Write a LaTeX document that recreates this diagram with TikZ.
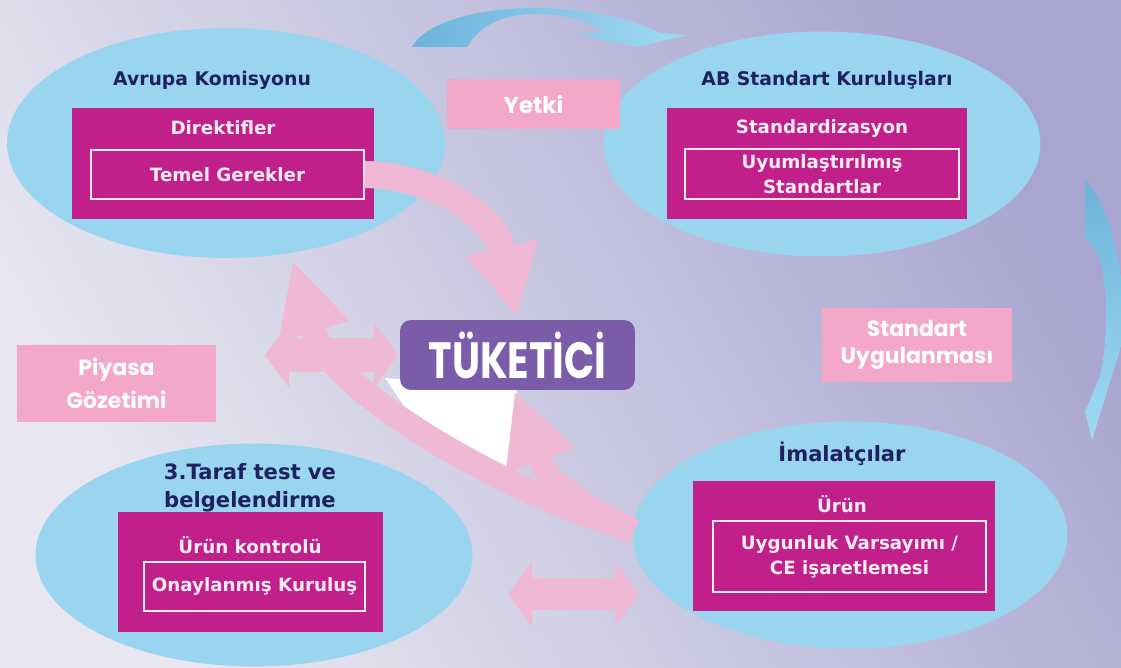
\documentclass[tikz,border=0pt]{standalone}
\usepackage{fontspec}
\setmainfont{DejaVu Sans}
\newfontfamily\lblfont{Poppins}
\usepackage{tikz}
\usetikzlibrary{arrows.meta}
\usetikzlibrary{shapes.geometric}

\definecolor{bgleft}{RGB}{232,231,241}
\definecolor{bgright}{RGB}{168,166,208}
\definecolor{ellblue}{RGB}{154,213,239}
\definecolor{boxmag}{RGB}{193,32,138}
\definecolor{titleblue}{RGB}{30,32,96}
\definecolor{lblpink}{RGB}{243,168,202}
\definecolor{arrpink}{RGB}{239,185,214}
\definecolor{tukpurple}{RGB}{122,92,168}
\definecolor{bluedark}{RGB}{108,179,218}
\definecolor{bluelight}{RGB}{160,218,242}
\definecolor{boxtext}{RGB}{250,235,244}

\newcommand\ttlfont{\bfseries\fontsize{10.7}{13}\selectfont}
\newcommand\ttlfontb{\bfseries\fontsize{12}{16}\selectfont}
\newcommand\bxfont{\bfseries\fontsize{10.4}{14.2}\selectfont}

\tikzset{
	pinktip/.style={-{Triangle[length=#1, width=1.48cm, line width=0pt]}},
	pinktwo/.style={{Triangle[length=0.48cm, width=1.3cm, line width=0pt]}-{Triangle[length=0.48cm, width=1.3cm, line width=0pt]}}
}

\begin{document}
\begin{tikzpicture}[x=0.02cm, y=-0.02cm]
	\useasboundingbox (0,0) rectangle (1121,668);
	\shade[top color=bgright, bottom color=bgleft, shading angle=-60] (0,0) rectangle (1121,668);

	\shade[left color=bluedark, right color=bluelight] (412,47) .. controls (425,22) and (480,8) .. (535,8)
		.. controls (590,8) and (640,22) .. (660,33) -- (687,35) -- (637,47) -- (575,34) -- (602,32)
		.. controls (590,20) and (560,14) .. (535,14) .. controls (500,14) and (478,28) .. (467,47) -- cycle;
	\shade[top color=bluedark, bottom color=bluelight] (1085,180) .. controls (1105,200) and (1121,250) .. (1123,300)
		-- (1123,340) -- (1092,440) -- (1085,412) -- (1100,376) .. controls (1108,340) and (1108,290) .. (1100,260)
		.. controls (1095,248) and (1090,242) .. (1085,238) -- cycle;

	\begin{scope}[every node/.style={ellipse, fill=ellblue, inner sep=0pt}]
		\node[minimum width=8.76cm, minimum height=4.6cm] (ak) at (226,143) {};
		\node[minimum width=8.74cm, minimum height=4.5cm] (ab) at (822,144) {};
		\node[minimum width=8.74cm, minimum height=4.46cm] (tt) at (254,555) {};
		\node[minimum width=8.7cm, minimum height=4.54cm] (im) at (850,535) {};
	\end{scope}

	\begin{scope}[every node/.style={fill=boxmag, inner sep=0pt}]
		\node[minimum width=6.04cm, minimum height=2.22cm] (akbox) at (223,163.5) {};
		\node[minimum width=6.0cm, minimum height=2.22cm] (abbox) at (817,163.5) {};
		\node[minimum width=5.3cm, minimum height=2.4cm] (ttbox) at (250.5,572) {};
		\node[minimum width=6.04cm, minimum height=2.6cm] (imbox) at (844,546) {};
	\end{scope}

	\begin{scope}[every node/.style={draw=boxtext, line width=0.8pt, inner sep=0pt, text=boxtext, align=center, font=\bxfont}]
		\node[minimum width=5.46cm, minimum height=0.98cm] (temel) at (227.5,174.5) {Temel Gerekler};
		\node[minimum width=5.48cm, minimum height=1cm] (uyum) at (822,174) {Uyumlaştırılmış\\Standartlar};
		\node[minimum width=4.42cm, minimum height=0.98cm] (onay) at (254.5,586.5) {Onaylanmış Kuruluş};
		\node[minimum width=5.46cm, minimum height=1.42cm] (uyg) at (849.5,556.5) {Uygunluk Varsayımı /\\CE işaretlemesi};
	\end{scope}

	\begin{scope}[every node/.style={inner sep=0pt, text=boxtext, font=\bxfont}]
		\node (direk) at (223,128) {Direktifler};
		\node (stdz) at (822,129) {Standardizasyon};
		\node (urkon) at (250,545) {Ürün kontrolü};
		\node (urun) at (842,504) {Ürün};
	\end{scope}

	\begin{scope}[every node/.style={inner sep=0pt, text=titleblue, align=center}]
		\node[font=\ttlfont] (aktitle) at (212,80) {Avrupa Komisyonu};
		\node[font=\ttlfont] (abtitle) at (827,80) {AB Standart Kuruluşları};
		\node[font=\ttlfontb] (tttitle) at (250,488) {3.Taraf test ve\\belgelendirme};
		\node[font=\ttlfontb] (imtitle) at (842,454) {İmalatçılar};
	\end{scope}

	\fill[white] (385,378) -- (517,388) -- (508,478) -- (560,500) -- (470,455) -- (410,415) -- cycle;

	\coordinate (tukn) at (517,316);
	\coordinate (tuks) at (515,393);
	\coordinate (aks) at (293,262);
	\coordinate (imw) at (634,531);
	\coordinate (dleft) at (265,355);
	\coordinate (eleft) at (508,594);
	\coordinate (eright) at (639,594);

	\begin{scope}[draw=arrpink]
		\draw[line width=0.54cm, pinktip=1.4cm] (temel.east) .. controls (440,176) and (495,220) .. (tukn);
		\draw[line width=0.5cm, pinktip=1.45cm] (imw) .. controls (490,487) and (331,388) .. (aks);
		\draw[line width=0.48cm, pinktip=1.45cm] (imw) .. controls (598,513) and (550,487) .. (tuks);
		\draw[line width=0.68cm, pinktwo] (dleft) -- (398,355);
		\draw[line width=0.64cm, pinktwo] (eleft) -- (eright);
	\end{scope}

	\begin{scope}[every node/.style={fill=lblpink, text=white, align=center, inner sep=0pt}]
		\node[minimum width=3.46cm, minimum height=1cm, font=\lblfont\bfseries\fontsize{13}{15}\selectfont] (yetki) at (533.5,104) {Yetki};
		\node[minimum width=3.8cm, minimum height=1.48cm, font=\lblfont\bfseries\fontsize{12.5}{15.4}\selectfont] (stduyg) at (917,345) {Standart\\Uygulanması};
		\node[minimum width=3.98cm, minimum height=1.54cm, font=\lblfont\bfseries\fontsize{12.5}{18.5}\selectfont] (piyasa) at (116.5,383.5) {Piyasa\\Gözetimi};
	\end{scope}

	\node[fill=tukpurple, rounded corners=0.22cm, minimum width=4.7cm, minimum height=1.4cm, inner sep=0pt,
		text=white, font=\lblfont\bfseries\fontsize{29}{29}\selectfont] (tuk) at (517.5,355) {\scalebox{0.78}[1]{TÜKETİCİ}};
\end{tikzpicture}
\end{document}
